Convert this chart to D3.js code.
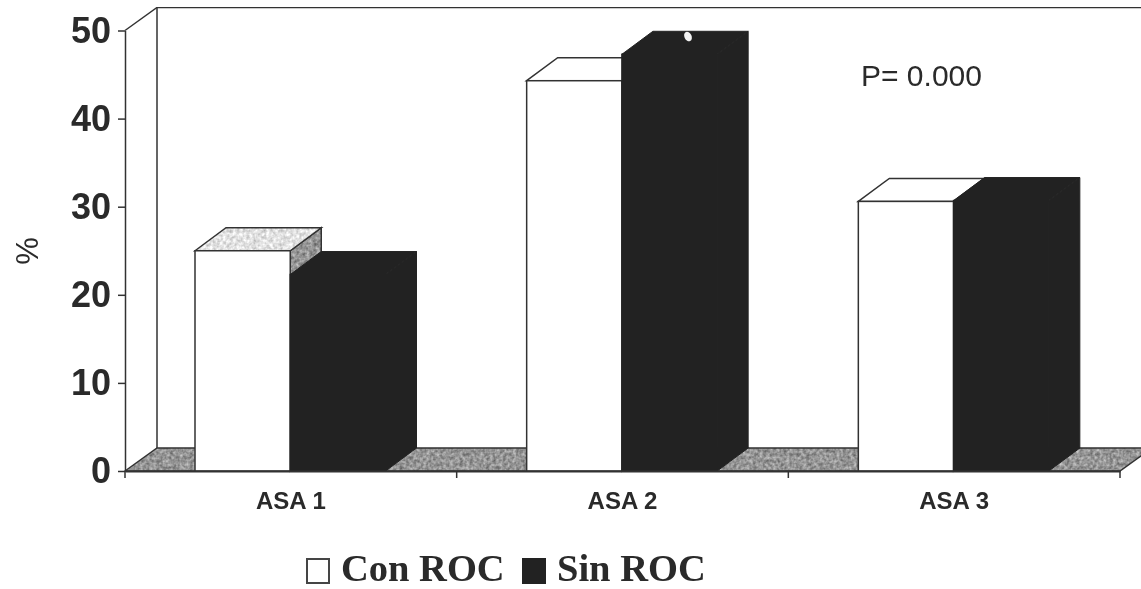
<!DOCTYPE html>
<html>
<head>
<meta charset="utf-8">
<script src="https://cdn.jsdelivr.net/npm/d3@7"></script>
<style>
  html, body { margin: 0; padding: 0; background: #fff; overflow: hidden; }
  svg { display: block; }
</style>
</head>
<body>
<div id="chart"></div>
<script>
// values
const categories = ["ASA 1", "ASA 2", "ASA 3"];
const series = ["Con ROC", "Sin ROC"];
const conRoc = [25, 44.3, 30.6];
const sinRoc = [22.3, 47.3, 30.7];
const yTicks = [0, 10, 20, 30, 40, 50];
const note = "P= 0.000";

const W = 1141, H = 589;
const depthX = 31, depthY = 23;   // oblique offset of the fake 3D
const ink = "#333", dark = "#232323", textInk = "#2a2a2a";

const svg = d3.select("#chart").append("svg")
    .attr("width", W).attr("height", H);

// scan look: slight blur + stipple for the grey faces
const defs = svg.append("defs");
defs.append("filter").attr("id", "scan")
    .attr("x", 0).attr("y", 0).attr("width", 1).attr("height", 1)
    .append("feGaussianBlur").attr("stdDeviation", 0.6);

function stipple(id, base, amp) {
    const f = defs.append("filter").attr("id", id)
        .attr("color-interpolation-filters", "sRGB")
        .attr("x", 0).attr("y", 0).attr("width", 1).attr("height", 1);
    f.append("feTurbulence").attr("type", "fractalNoise")
        .attr("baseFrequency", 0.3).attr("numOctaves", 2).attr("seed", 4);
    f.append("feColorMatrix").attr("type", "matrix")
        .attr("values", `${amp} 0 0 0 ${base}  ${amp} 0 0 0 ${base}  ${amp} 0 0 0 ${base}  0 0 0 0 1`);
    f.append("feComposite").attr("in2", "SourceAlpha").attr("operator", "in");
}
stipple("greyNoise", 0.31, 0.55);
stipple("lightNoise", 0.66, 0.45);

const g = svg.append("g").attr("filter", "url(#scan)");

const y = d3.scaleLinear().domain([0, 50]).range([471, 30.5]);
const x = d3.scaleBand().domain(categories).range([125, 1120]);
const inner = d3.scaleBand().domain(series).range([70, 260.5]);

const poly = pts => pts.map(p => p.join(",")).join(" ");
const y0 = y(0), y50 = y(50), x0 = x.range()[0], x1 = x.range()[1];

// back wall
g.append("path")
    .attr("d", `M${x0},${y50}L${x0 + depthX + 1},${y50 - depthY}H${W + 5}`)
    .attr("fill", "none").attr("stroke", ink).attr("stroke-width", 1.5);
g.append("line")
    .attr("x1", x0 + depthX + 1).attr("x2", x0 + depthX + 1)
    .attr("y1", y50 - depthY).attr("y2", y0 - depthY)
    .attr("stroke", ink).attr("stroke-width", 1.5);

// floor
const floorPts = [[x0, y0], [x0 + depthX + 1, y0 - depthY], [x1 + depthX + 1, y0 - depthY], [x1, y0]];
g.append("polygon").attr("points", poly(floorPts)).attr("filter", "url(#greyNoise)");
g.append("polygon").attr("points", poly(floorPts))
    .attr("fill", "none").attr("stroke", ink).attr("stroke-width", 1.5);

// bars, drawn group by group so the dark one covers the side of the white one
const topFilter = { "ASA 1": "url(#lightNoise)" };
categories.forEach((cat, i) => {
    [conRoc[i], sinRoc[i]].forEach((val, s) => {
        const left = x(cat) + inner(series[s]);
        const right = left + inner.bandwidth();
        const top = y(val);
        const isDark = s === 1;
        const topPts = [[left, top], [left + depthX, top - depthY], [right + depthX, top - depthY], [right, top]];
        const sidePts = [[right, top], [right + depthX, top - depthY], [right + depthX, y0 - depthY], [right, y0]];

        if (isDark) {
            g.append("polygon").attr("points", poly(topPts)).attr("fill", dark).attr("stroke", dark);
            g.append("polygon").attr("points", poly(sidePts)).attr("fill", dark).attr("stroke", dark);
        } else {
            g.append("polygon").attr("points", poly(sidePts)).attr("filter", "url(#greyNoise)");
            g.append("polygon").attr("points", poly(sidePts))
                .attr("fill", "none").attr("stroke", ink).attr("stroke-width", 1.5);
            if (topFilter[cat]) {
                g.append("polygon").attr("points", poly(topPts)).attr("filter", topFilter[cat]);
                g.append("polygon").attr("points", poly(topPts))
                    .attr("fill", "none").attr("stroke", ink).attr("stroke-width", 1.5);
            } else {
                g.append("polygon").attr("points", poly(topPts))
                    .attr("fill", "#fff").attr("stroke", ink).attr("stroke-width", 1.5);
            }
        }
        g.append("rect")
            .attr("x", left).attr("y", top)
            .attr("width", right - left).attr("height", y0 - top)
            .attr("fill", isDark ? dark : "#fff")
            .attr("stroke", isDark ? dark : ink)
            .attr("stroke-width", 1.5);
    });
});

// the white speck on the scan
g.append("ellipse")
    .attr("cx", 688).attr("cy", 36.5).attr("rx", 3.6).attr("ry", 5)
    .attr("transform", "rotate(-25 688 36.5)").attr("fill", "#f4f4f4");

// y axis
const yAxis = g.append("g").attr("transform", `translate(${x0},0)`)
    .call(d3.axisLeft(y).tickValues(yTicks).tickSize(7).tickSizeOuter(0).tickPadding(7));
yAxis.select(".domain").attr("stroke", ink).attr("stroke-width", 1.5);
yAxis.selectAll(".tick line").attr("stroke", ink).attr("stroke-width", 1.5);
yAxis.selectAll("text")
    .attr("font-family", "Liberation Sans").attr("font-weight", "bold")
    .attr("font-size", 36).attr("fill", textInk);

// x axis: labels on band centres, tick marks on band edges
const xAxis = g.append("g").attr("transform", `translate(0,${y0})`)
    .call(d3.axisBottom(x).tickSize(0).tickSizeOuter(0).tickPadding(21));
xAxis.select(".domain").attr("stroke", ink).attr("stroke-width", 2);
xAxis.selectAll("text")
    .attr("font-family", "Liberation Sans").attr("font-weight", "bold")
    .attr("font-size", 24).attr("fill", textInk);
xAxis.selectAll(".edge").data([...categories.map(c => x(c)), x1]).enter().append("line")
    .attr("class", "edge").attr("x1", d => d).attr("x2", d => d)
    .attr("y1", 0).attr("y2", 7).attr("stroke", ink).attr("stroke-width", 1.5);

// y title and note
g.append("text").attr("transform", "translate(38,251) rotate(-90)")
    .attr("text-anchor", "middle")
    .attr("font-family", "Liberation Sans").attr("font-size", 31).attr("fill", textInk)
    .text("%");
g.append("text").attr("x", 861).attr("y", 86)
    .attr("font-family", "Liberation Sans").attr("font-size", 30).attr("fill", textInk)
    .text(note);

// legend
const legendAt = [{ box: 306, text: 341 }, { box: 522, text: 557 }];
series.forEach((name, s) => {
    g.append("rect")
        .attr("x", legendAt[s].box + 1).attr("y", 559)
        .attr("width", 22).attr("height", 24)
        .attr("fill", s ? dark : "#fff")
        .attr("stroke", s ? dark : "#444").attr("stroke-width", 2);
    g.append("text").attr("x", legendAt[s].text).attr("y", 580.5)
        .attr("font-family", "Liberation Serif").attr("font-weight", "bold")
        .attr("font-size", 38.5).attr("fill", textInk)
        .text(name);
});
</script>
</body>
</html>
